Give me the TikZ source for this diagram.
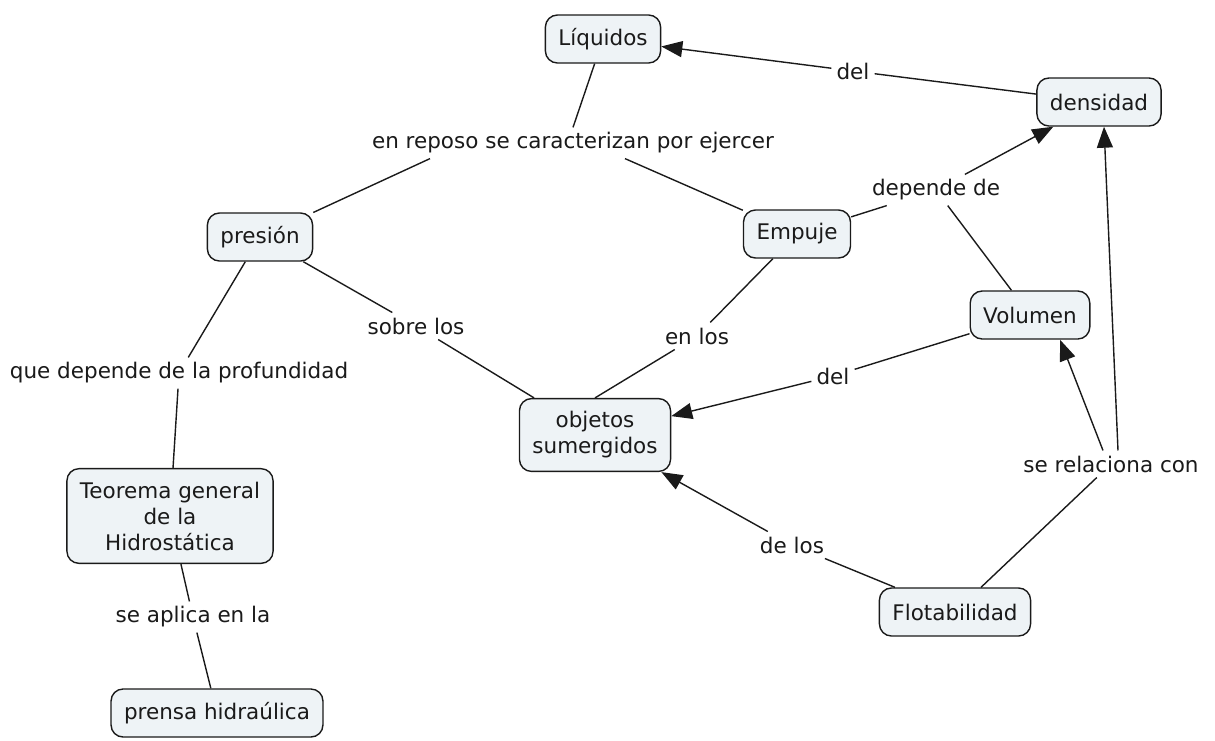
\documentclass[tikz,border=0pt]{standalone}
\usepackage{fontspec}
\setmainfont{DejaVu Sans}
\usetikzlibrary{arrows.meta,calc}
\definecolor{boxfill}{HTML}{EEF3F6}
\definecolor{ink}{HTML}{1A1A1A}
\tikzset{
  concept/.style={draw=ink, line width=1.4pt, fill=boxfill, rounded corners=12pt,
    inner xsep=13pt, inner ysep=13pt, minimum height=48pt, font=\fontsize{21.5}{26}\selectfont, text=ink, align=center},
  lbl/.style={inner sep=5pt, font=\fontsize{21.5}{26}\selectfont, text=ink, fill=white},
  conn/.style={draw=ink, line width=1.4pt},
  arr/.style={conn, -{Triangle[length=21pt,width=16pt]}}
}
\begin{document}
\begin{tikzpicture}[x=1pt,y=-1pt]
\useasboundingbox (0,0) rectangle (1215,740);
% concepts
\node[concept] (liq) at (603,39) {Líquidos};
\node[concept] (dens) at (1099,102) {densidad};
\node[concept] (pres) at (260,237) {presión};
\node[concept] (emp) at (797,234) {Empuje};
\node[concept] (vol) at (1030,315) {Volumen};
\node[concept] (obj) at (595,435) {objetos\\sumergidos};
\node[concept] (teo) at (170,516) {Teorema general\\de la\\Hidrostática};
\node[concept] (pren) at (217,713) {prensa hidraúlica};
\node[concept] (flot) at (955,612) {Flotabilidad};
% linking phrases
\node[lbl] (lab1) at (573,143) {en reposo se caracterizan por ejercer};
\node[lbl] (del1) at (853,71) {del};
\node[lbl] (dep) at (936,190) {depende de};
\node[lbl] (sob) at (416,326) {sobre los};
\node[lbl] (enl) at (697,336) {en los};
\node[lbl] (del2) at (833,376) {del};
\node[lbl] (qd) at (179,373) {que depende de la profundidad};
\node[lbl] (src) at (1111,464) {se relaciona con};
\node[lbl] (dl) at (792,545) {de los};
\node[lbl] (sap) at (193,617) {se aplica en la};
% connectors
\draw[conn] (liq) -- (lab1.north);
\draw[conn] (pres) -- ([xshift=-143pt]lab1.south);
\draw[conn] ([xshift=52pt]lab1.south) -- (emp);
\draw[conn] (dens) -- (del1);
\draw[arr] (del1) -- (liq);
\draw[conn] (emp) -- (dep);
\draw[arr] (dep) -- (dens);
\draw[conn] (vol) -- (dep);
\draw[conn] (pres) -- (sob);
\draw[conn] (sob) -- (obj);
\draw[conn] (emp) -- (enl);
\draw[conn] (enl) -- (obj.north);
\draw[conn] (vol) -- (del2);
\draw[arr] (del2) -- (obj);
\draw[conn] (pres) -- (qd);
\draw[conn] (qd) -- (teo);
\draw[conn] (teo) -- (sap);
\draw[conn] (sap) -- (pren);
\draw[conn] (flot) -- (src);
\draw[arr] ([xshift=-8pt]src.north) -- ([xshift=30pt]vol.south);
\draw[arr] ([xshift=7pt]src.north) -- ([xshift=5pt]dens.south);
\draw[conn] (flot) -- (dl);
\draw[arr] (dl) -- (obj);
\end{tikzpicture}
\end{document}
